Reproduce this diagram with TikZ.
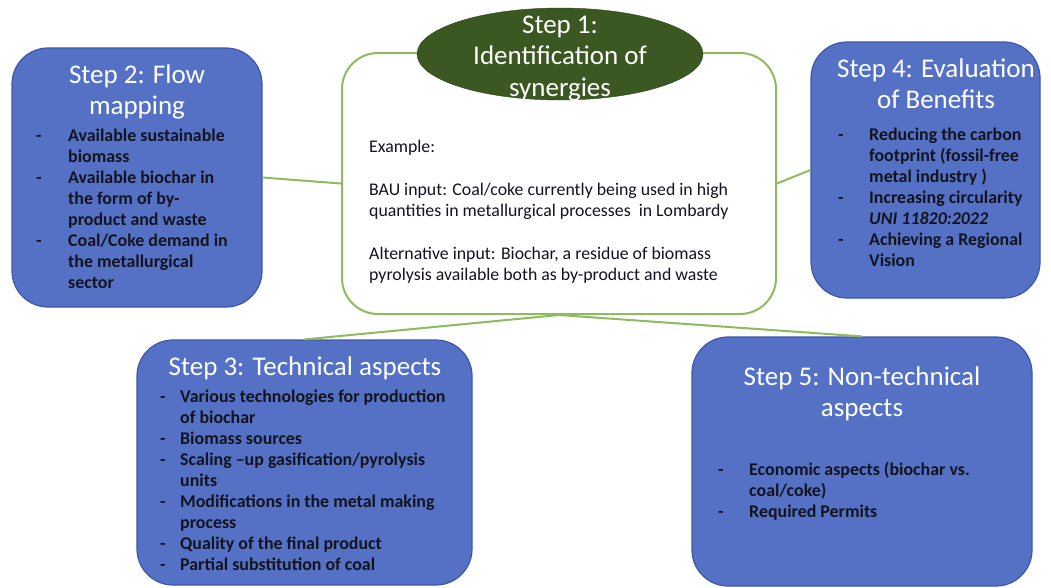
\documentclass[tikz,border=0pt]{standalone}
\usepackage{fontspec}
\setmainfont{Carlito}
\usetikzlibrary{shapes.geometric}

\definecolor{stepfill}{RGB}{84,113,198}
\definecolor{stepedge}{RGB}{62,88,168}
\definecolor{linkgreen}{RGB}{141,187,94}
\definecolor{synfill}{RGB}{59,88,34}
\definecolor{textdark}{RGB}{20,20,30}

% centred title lines, baseline on the first line
\newcommand{\steplines}[1]{\begin{tabular}[t]{@{}c@{}}#1\end{tabular}}
% dash column + item text, one row per printed line
\newcommand{\steplist}[2]{\begin{tabular}[t]{@{}p{#1}@{}l@{}}#2\end{tabular}}

\begin{document}
\begin{tikzpicture}
        [x=1pt, y=-1pt,
        stepbox/.style={draw=stepedge, line width=1.2pt, fill=stepfill,
        rounded corners=36pt, inner sep=0pt},
        synbox/.style={draw=linkgreen, line width=2pt, fill=white,
        rounded corners=36pt, inner sep=0pt},
        synoval/.style={ellipse, fill=synfill, draw=synfill!80!black,
        inner sep=0pt},
        steptitle/.style={anchor=base, inner sep=0pt, text=white,
        font=\fontsize{27}{31.5}\selectfont},
        listbox/.style={anchor=base west, inner sep=0pt, text=textdark,
        font=\fontsize{17.9}{21}\selectfont\bfseries},
        syntext/.style={anchor=base west, inner sep=0pt, text=textdark,
        font=\fontsize{17.8}{21}\selectfont},
        link/.style={draw=linkgreen, line width=2pt}]
        \useasboundingbox (0,0) rectangle (1051,587);

        % boxes
        \node [stepbox, minimum width=250pt, minimum height=259pt] (flowbox) at (137,177.5) {};
        \node [synbox, minimum width=434pt, minimum height=261pt] (synbox) at (559,183.5) {};
        \node [stepbox, minimum width=229pt, minimum height=256pt] (benefitbox) at (925.5,170) {};
        \node [stepbox, minimum width=335pt, minimum height=245pt] (techbox) at (304.5,462.5) {};
        \node [stepbox, minimum width=340pt, minimum height=249pt] (nontechbox) at (862,461.5) {};
        \node [synoval, minimum width=286pt, minimum height=92pt] (synoval) at (560,54) {};

        % connectors
        \draw [link] (flowbox.east) -- (synbox.west);
        \draw [link] (synbox.east) -- (benefitbox.west);
        \draw [link] (synbox.south) -- (techbox.north);
        \draw [link] (synbox.south) -- (nontechbox.north);

        % Step 1
        \node [steptitle] (syntitle) at (560,33) {\steplines{Step 1:\\Identification of\\synergies}};
        \node [syntext] (synexample) at (369,152) {\begin{tabular}[t]{@{}l@{}}
            Example:\\[22pt]
            BAU input: Coal/coke currently being used in high\\
            quantities in metallurgical processes \ in Lombardy\\[22pt]
            Alternative input: Biochar, a residue of biomass\\
            pyrolysis available both as by-product and waste
        \end{tabular}};

        % Step 2
        \node [steptitle] (flowtitle) at (137,83) {\steplines{Step 2: Flow\\mapping}};
        \node [listbox] (flowlist) at (36,141) {\steplist{32pt}{
            - & Available sustainable\\
              & biomass\\
            - & Available biochar in\\
              & the form of by-\\
              & product and waste\\
            - & Coal/Coke demand in\\
              & the metallurgical\\
              & sector}};

        % Step 4
        \node [steptitle] (benefittitle) at (936,77) {\steplines{Step 4: Evaluation\\of Benefits}};
        \node [listbox] (benefitlist) at (838,140) {\steplist{31pt}{
            - & Reducing the carbon\\
              & footprint (fossil-free\\
              & metal industry )\\
            - & Increasing circularity\\
              & \textit{UNI 11820:2022}\\
            - & Achieving a Regional\\
              & Vision}};

        % Step 3
        \node [steptitle] (techtitle) at (305,375) {\steplines{Step 3: Technical aspects}};
        \node [listbox] (techlist) at (160,402) {\steplist{20pt}{
            - & Various technologies for production\\
              & of biochar\\
            - & Biomass sources\\
            - & Scaling –up gasification/pyrolysis\\
              & units\\
            - & Modifications in the metal making\\
              & process\\
            - & Quality of the final product\\
            - & Partial substitution of coal}};

        % Step 5
        \node [steptitle] (nontechtitle) at (862,385) {\steplines{Step 5: Non-technical\\aspects}};
        \node [listbox] (nontechlist) at (718,475) {\steplist{31pt}{
            - & Economic aspects (biochar vs.\\
              & coal/coke)\\
            - & Required Permits}};
\end{tikzpicture}
\end{document}
